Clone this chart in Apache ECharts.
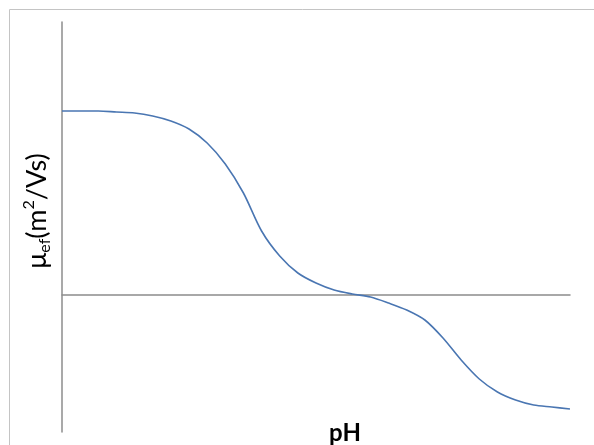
<!DOCTYPE html>
<html>
<head>
<meta charset="utf-8">
<script src="https://cdn.jsdelivr.net/npm/echarts@6/dist/echarts.min.js"></script>
<style>html,body{margin:0;padding:0;background:#fff;}#c{width:594px;height:445px;}</style>
</head>
<body>
<div id="c"></div>
<script>
var pH = [0, 0.5, 1, 1.5, 2, 2.5, 3, 3.5, 4, 4.5, 5, 5.5, 6, 6.5, 7, 7.5, 8, 8.5, 9, 9.5, 10, 10.5, 11, 11.5, 12, 12.5, 13, 13.5, 14];
var mobility = [1.84, 1.84, 1.84, 1.83, 1.82, 1.79, 1.74, 1.66, 1.52, 1.31, 1.02, 0.64, 0.39, 0.22, 0.12, 0.05, 0.01, -0.02, -0.08, -0.15, -0.25, -0.43, -0.65, -0.84, -0.97, -1.05, -1.10, -1.12, -1.14];
var xTitle = 'pH';

var chart = echarts.init(document.getElementById('c'), null, {renderer: 'canvas'});
var axisLineStyle = {color: '#8c8c8c', width: 1.5};
chart.setOption({
  animation: false,
  grid: {left: 62, right: 24, top: 22, bottom: 13},
  xAxis: {type: 'value', min: 0, max: 14, axisLine: {show: true, onZero: true, lineStyle: axisLineStyle},
          axisTick: {show: false}, axisLabel: {show: false}, splitLine: {show: false}},
  yAxis: {type: 'value', min: -1.37, max: 2.73, axisLine: {show: true, onZero: false, lineStyle: axisLineStyle},
          axisTick: {show: false}, axisLabel: {show: false}, splitLine: {show: false}},
  series: [{
    type: 'line', smooth: 0.3, showSymbol: false,
    data: pH.map(function (v, i) { return [v, mobility[i]]; }),
    lineStyle: {color: '#4a76b2', width: 1.6}
  }],
  graphic: [
    {type: 'rect', shape: {x: 9.5, y: 9.5, width: 700, height: 600}, style: {fill: 'none', stroke: '#c4c4c4', lineWidth: 1}, silent: true, z: -1},
    {type: 'text', x: 345, y: 433, style: {text: xTitle, font: 'bold 24px Lato, "Open Sans", sans-serif', fill: '#000', align: 'center', verticalAlign: 'middle'}},
    {type: 'text', x: 37, y: 211, rotation: Math.PI / 2,
     style: {
       text: '{m|μ}{s|ef}{m|(m}{p|2}{m|/Vs)}',
       align: 'center', verticalAlign: 'middle',
       rich: {
         m: {font: '27px Lato, "Open Sans", sans-serif', fill: '#000', lineHeight: 32, verticalAlign: 'middle'},
         s: {font: '16px Lato, "Open Sans", sans-serif', fill: '#000', lineHeight: 32, verticalAlign: 'bottom'},
         p: {font: '16px Lato, "Open Sans", sans-serif', fill: '#000', lineHeight: 32, verticalAlign: 'top'}
       }
     }}
  ]
});
</script>
</body>
</html>
